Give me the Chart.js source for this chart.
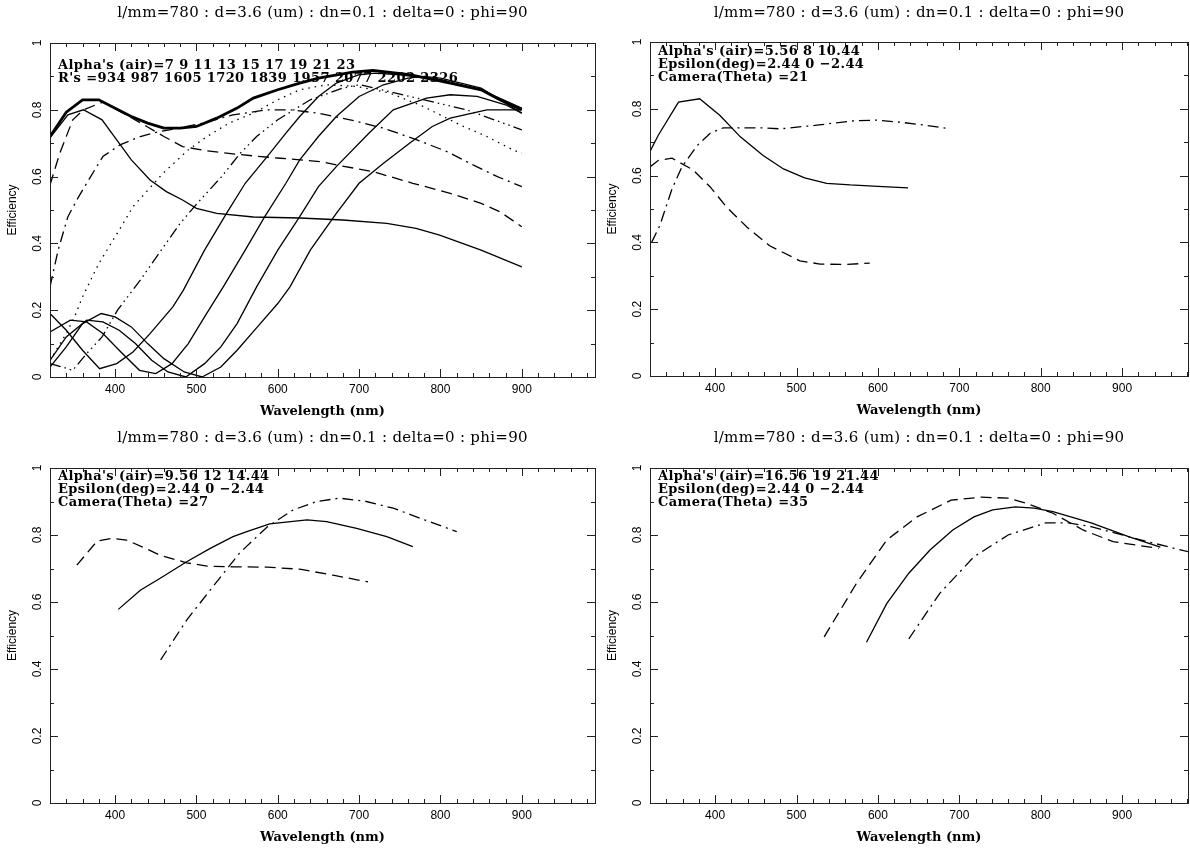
<!DOCTYPE html>
<html><head><meta charset="utf-8">
<script src="https://cdn.jsdelivr.net/npm/chart.js@4.4.1/dist/chart.umd.min.js"></script>
<style>
html,body{margin:0;padding:0;background:#fff;overflow:hidden;width:1190px;height:848px;}
canvas{position:absolute;}
</style></head><body>
<canvas id="c1" width="600" height="424" style="left:0;top:0"></canvas>
<canvas id="c2" width="590" height="424" style="left:600px;top:0"></canvas>
<canvas id="c3" width="600" height="424" style="left:0;top:424px"></canvas>
<canvas id="c4" width="590" height="424" style="left:600px;top:424px"></canvas>
<script>
// ---------- shared text ----------
const titleText = "l/mm=780 : d=3.6 (um) : dn=0.1 : delta=0 : phi=90";
const xTitle = "Wavelength (nm)";
const yTitle = "Efficiency";
const xTickValues = [400, 500, 600, 700, 800, 900];
const yTickValues = [0, 0.2, 0.4, 0.6, 0.8, 1];
const yTickLabels = ["0", "0.2", "0.4", "0.6", "0.8", "1"];

// ---------- panel 1 : alphas 7..23 ----------
const p1Notes = ["Alpha's (air)=7 9 11 13 15 17 19 21 23", "R's =934 987 1605 1720 1839 1957 2077 2202 2326"];
const envWl  = [320,340,360,380,400,420,440,460,480,500,525,550,570,600,627,650,692,717,762,812,850,873,900];
const envEff = [0.72,0.793,0.83,0.83,0.805,0.78,0.76,0.745,0.745,0.75,0.775,0.805,0.835,0.86,0.88,0.895,0.913,0.918,0.905,0.88,0.86,0.83,0.80];
const a7Wl  = [320,342,361,384,402,420,443,463,483,500,525,570,627,680,734,770,799,850,900];
const a7Eff = [0.716,0.785,0.80,0.77,0.71,0.65,0.59,0.555,0.53,0.505,0.49,0.479,0.476,0.47,0.46,0.445,0.425,0.38,0.33];
const a9Wl  = [320,332,348,361,385,410,439,460,483,510,537,570,603,652,672,717,766,812,850,873,900];
const a9Eff = [0.575,0.67,0.77,0.80,0.823,0.79,0.75,0.72,0.69,0.678,0.67,0.662,0.655,0.645,0.635,0.615,0.58,0.55,0.52,0.495,0.45];
const a11Wl  = [320,330,342,353,365,385,406,431,455,467,508,545,587,615,650,689,730,771,808,840,870,900];
const a11Eff = [0.27,0.38,0.48,0.53,0.58,0.66,0.695,0.72,0.735,0.74,0.76,0.785,0.80,0.80,0.79,0.77,0.745,0.71,0.675,0.635,0.60,0.57];
const a13Wl  = [320,340,351,360,380,410,422,459,490,513,540,570,600,627,660,697,738,779,824,857,889,900];
const a13Eff = [0.05,0.13,0.185,0.24,0.34,0.46,0.51,0.61,0.68,0.72,0.76,0.79,0.83,0.86,0.875,0.87,0.85,0.81,0.755,0.72,0.68,0.67];
const a15Wl  = [320,335,348,365,384,403,431,451,480,501,531,554,574,600,640,680,701,762,832,900];
const a15Eff = [0.04,0.03,0.02,0.07,0.12,0.20,0.29,0.36,0.46,0.52,0.60,0.67,0.72,0.77,0.83,0.865,0.875,0.84,0.80,0.74];
const a17Wl  = [320,340,360,381,402,422,443,471,484,510,537,560,587,610,627,650,672,700,720,750,800,850,900];
const a17Eff = [0.19,0.14,0.08,0.025,0.04,0.075,0.13,0.21,0.26,0.38,0.49,0.58,0.66,0.73,0.78,0.84,0.88,0.905,0.91,0.905,0.89,0.86,0.805];
const a19Wl  = [320,345,365,385,405,430,450,470,490,510,533,560,584,610,627,650,672,700,730,760,780,800,850,900];
const a19Eff = [0.135,0.17,0.165,0.13,0.08,0.02,0.01,0.04,0.10,0.18,0.27,0.38,0.48,0.58,0.65,0.72,0.78,0.84,0.875,0.895,0.90,0.895,0.865,0.79];
const a21Wl  = [320,340,365,385,405,425,445,465,487,510,530,550,574,600,627,650,672,712,742,783,812,845,880,900];
const a21Eff = [0.05,0.12,0.17,0.165,0.14,0.10,0.05,0.015,0.0,0.04,0.09,0.16,0.27,0.38,0.48,0.57,0.63,0.73,0.80,0.835,0.845,0.84,0.815,0.79];
const a23Wl  = [320,340,360,383,400,420,440,460,485,507,530,550,575,600,615,640,672,700,730,762,790,812,857,900];
const a23Eff = [0.03,0.09,0.16,0.19,0.18,0.15,0.10,0.055,0.015,0.0,0.03,0.08,0.15,0.22,0.27,0.38,0.49,0.58,0.64,0.70,0.75,0.775,0.80,0.80];

// ---------- panel 2 : camera 21 ----------
const p2Notes = ["Alpha's (air)=5.56 8 10.44", "Epsilon(deg)=2.44 0 \u22122.44", "Camera(Theta) =21"];
const c21SolidWl  = [320,330,355,381,406,431,459,484,510,537,566,600,637];
const c21SolidEff = [0.672,0.72,0.82,0.83,0.78,0.716,0.66,0.62,0.593,0.577,0.572,0.568,0.563];
const c21DashWl  = [320,330,347,373,394,414,439,467,504,529,560,590];
const c21DashEff = [0.626,0.645,0.652,0.617,0.566,0.506,0.446,0.39,0.345,0.335,0.334,0.338];
const c21DotDashWl  = [322,332,347,359,378,394,410,455,480,525,570,599,627,655,683];
const c21DotDashEff = [0.40,0.45,0.56,0.625,0.69,0.727,0.743,0.743,0.74,0.751,0.764,0.766,0.76,0.752,0.742];

// ---------- panel 3 : camera 27 ----------
const p3Notes = ["Alpha's (air)=9.56 12 14.44", "Epsilon(deg)=2.44 0 \u22122.44", "Camera(Theta) =27"];
const c27SolidWl  = [404,431,455,488,517,545,562,590,636,660,697,734,766];
const c27SolidEff = [0.578,0.635,0.67,0.72,0.76,0.795,0.81,0.833,0.845,0.84,0.82,0.795,0.765];
const c27DashWl  = [353,378,396,414,434,455,488,513,545,587,627,668,711];
const c27DashEff = [0.71,0.782,0.79,0.785,0.764,0.74,0.717,0.707,0.705,0.704,0.698,0.68,0.66];
const c27DotDashWl  = [456,488,520,553,587,619,648,676,709,742,775,820];
const c27DotDashEff = [0.427,0.546,0.645,0.746,0.824,0.875,0.90,0.91,0.90,0.88,0.85,0.81];

// ---------- panel 4 : camera 35 ----------
const p4Notes = ["Alpha's (air)=16.56 19 21.44", "Epsilon(deg)=2.44 0 \u22122.44", "Camera(Theta) =35"];
const c35SolidWl  = [586,611,638,664,692,718,741,769,792,815,862,908,947];
const c35SolidEff = [0.48,0.596,0.686,0.755,0.815,0.854,0.875,0.884,0.88,0.87,0.836,0.795,0.764];
const c35DashWl  = [534,574,611,648,690,727,760,782,815,852,889,945];
const c35DashEff = [0.496,0.657,0.785,0.854,0.904,0.913,0.91,0.895,0.865,0.815,0.78,0.76];
const c35DotDashWl  = [638,676,718,760,806,834,862,908,964,990];
const c35DotDashEff = [0.49,0.626,0.735,0.80,0.836,0.836,0.825,0.795,0.76,0.745];

// ---------- styles ----------
const DASH = [11, 6];
const DOTDASH = [11, 5, 2, 5];
const DOT = [1.5, 5];
const DASHDOT3 = [11, 4, 1.5, 4, 1.5, 4, 1.5, 4];

function series(wl, eff, dash, width) {
  return {
    data: wl.map((w, i) => ({x: w, y: eff[i]})),
    showLine: true, borderColor: '#000', backgroundColor: '#000',
    borderWidth: width || 1.3, borderDash: dash || [], pointRadius: 0,
    tension: 0, fill: false
  };
}

const SERIF = '"DejaVu Serif", "Liberation Serif", serif';
const SANS = '"Liberation Sans", Arial, sans-serif';

function framePlugin(notes, notesTop, titleY) {
  return {
    id: 'frame',
    afterDraw(chart) {
      const {ctx, chartArea: a, scales: {x, y}} = chart;
      ctx.save();
      ctx.strokeStyle = '#222'; ctx.lineWidth = 1;
      ctx.strokeRect(a.left + 0.5, a.top + 0.5, a.right - a.left, a.bottom - a.top);
      ctx.beginPath();
      for (let v = 320; v <= x.max; v += 20) {
        const px = Math.round(x.getPixelForValue(v)) + 0.5;
        const len = (v % 100 === 0) ? 8 : 4;
        ctx.moveTo(px, a.bottom); ctx.lineTo(px, a.bottom - len);
        ctx.moveTo(px, a.top); ctx.lineTo(px, a.top + len);
      }
      for (let k = 0; k <= 10; k++) {
        const v = k / 10;
        const py = Math.round(y.getPixelForValue(v)) + 0.5;
        const len = (k % 2 === 0) ? 8 : 4;
        ctx.moveTo(a.left, py); ctx.lineTo(a.left + len, py);
        ctx.moveTo(a.right, py); ctx.lineTo(a.right - len, py);
      }
      ctx.stroke();
      ctx.fillStyle = '#000';
      ctx.font = '12px ' + SANS;
      ctx.textAlign = 'center'; ctx.textBaseline = 'middle';
      xTickValues.forEach(v => ctx.fillText(String(v), x.getPixelForValue(v), a.bottom + 13));
      yTickValues.forEach((v, i) => {
        ctx.save();
        ctx.translate(a.left - 12, y.getPixelForValue(v));
        ctx.rotate(-Math.PI / 2);
        ctx.fillText(yTickLabels[i], 0, 0);
        ctx.restore();
      });
      ctx.font = 'bold 13px ' + SERIF;
      ctx.fillText(xTitle, (a.left + a.right) / 2, a.bottom + 35);
      ctx.save();
      ctx.font = '12px ' + SANS;
      ctx.translate(13, (a.top + a.bottom) / 2);
      ctx.rotate(-Math.PI / 2);
      ctx.fillText(yTitle, 0, 0);
      ctx.restore();
      ctx.font = '15px ' + SERIF;
      ctx.letterSpacing = '0.3px';
      ctx.fillText(titleText, (a.left + a.right) / 2, titleY);
      ctx.font = 'bold 13px ' + SERIF;
      ctx.letterSpacing = '0.4px';
      ctx.textAlign = 'left';
      notes.forEach((t, i) => ctx.fillText(t, a.left + 8, notesTop + i * 12.8));
      ctx.letterSpacing = '0px';
      ctx.restore();
    }
  };
}

function makeChart(id, datasets, pad, xmax, notes, notesTop, titleY) {
  return new Chart(document.getElementById(id), {
    type: 'scatter',
    data: {datasets},
    options: {
      responsive: false, animation: false, devicePixelRatio: 1,
      layout: {padding: pad},
      plugins: {legend: {display: false}, tooltip: {enabled: false}},
      scales: {
        x: {type: 'linear', min: 320, max: xmax, display: false},
        y: {type: 'linear', min: 0, max: 1, display: false}
      }
    },
    plugins: [framePlugin(notes, notesTop, titleY)]
  });
}

makeChart('c1', [
  series(envWl, envEff, [], 2.8),
  series(a7Wl, a7Eff),
  series(a9Wl, a9Eff, DASH),
  series(a11Wl, a11Eff, DOTDASH),
  series(a13Wl, a13Eff, DOT),
  series(a15Wl, a15Eff, DASHDOT3),
  series(a17Wl, a17Eff),
  series(a19Wl, a19Eff),
  series(a21Wl, a21Eff),
  series(a23Wl, a23Eff)
], {left: 50, top: 43, right: 5, bottom: 47}, 990, p1Notes, 66, 13);

makeChart('c2', [
  series(c21SolidWl, c21SolidEff),
  series(c21DashWl, c21DashEff, DASH),
  series(c21DotDashWl, c21DotDashEff, DOTDASH)
], {left: 50, top: 42, right: 2, bottom: 48}, 981, p2Notes, 52, 13);

makeChart('c3', [
  series(c27SolidWl, c27SolidEff),
  series(c27DashWl, c27DashEff, DASH),
  series(c27DotDashWl, c27DotDashEff, DOTDASH)
], {left: 50, top: 44, right: 5, bottom: 45}, 990, p3Notes, 53, 14);

makeChart('c4', [
  series(c35SolidWl, c35SolidEff),
  series(c35DashWl, c35DashEff, DASH),
  series(c35DotDashWl, c35DotDashEff, DOTDASH)
], {left: 50, top: 44, right: 2, bottom: 45}, 981, p4Notes, 53, 14);
</script>
</body></html>
